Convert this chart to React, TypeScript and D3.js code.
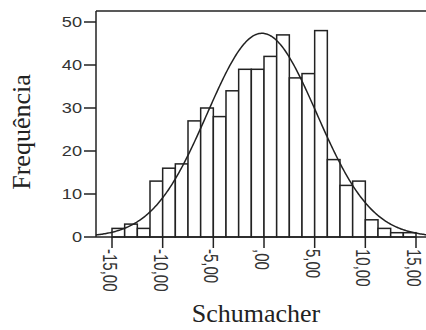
import React, { useEffect, useRef } from 'react';
import * as d3 from 'd3';

// histogram bins: lower edges start at -15, width 1.25
const binStart = -15;
const binWidth = 1.25;
const counts = [2, 3, 2, 13, 16, 17, 27, 30, 28, 34, 39, 39, 42, 47, 37, 38, 48, 18, 12, 13, 4, 2, 1, 1];

const yTicks = [0, 10, 20, 30, 40, 50];
const xTicks = [-15, -10, -5, 0, 5, 10, 15];
const xTickLabels = ['-15,00', '-10,00', '-5,00', ',00', '5,00', '10,00', '15,00'];

// fitted normal curve parameters
const curveMean = -0.2;
const curveSd = 5.4;

const W = 426;
const H = 330;

const App = () => {
  const svgRef = useRef<SVGSVGElement | null>(null);

  useEffect(() => {
    const svg = d3.select(svgRef.current);
    svg.selectAll('*').remove();

    const x = d3.scaleLinear().domain([-15, 15]).range([112, 416]);
    const y = d3.scaleLinear().domain([0, 50]).range([237, 22]);
    const left = 96;
    const top = 11;
    const base = y(0);
    const ink = '#222';

    const n = d3.sum(counts);

    // bars
    svg.append('g')
      .selectAll('rect')
      .data(counts)
      .enter()
      .append('rect')
      .attr('x', (d, i) => x(binStart + i * binWidth))
      .attr('y', d => y(d))
      .attr('width', x(binStart + binWidth) - x(binStart))
      .attr('height', d => base - y(d))
      .attr('fill', 'white')
      .attr('stroke', ink)
      .attr('stroke-width', 1.5);

    // normal curve
    const xMin = x.invert(left);
    const xMax = x.invert(W);
    const pts = d3.range(xMin, xMax + 0.05, 0.1).map(v => {
      const z = (v - curveMean) / curveSd;
      const f = n * binWidth * Math.exp(-0.5 * z * z) / (curveSd * Math.sqrt(2 * Math.PI));
      return [v, f] as [number, number];
    });
    svg.append('path')
      .attr('d', d3.line<[number, number]>().x(d => x(d[0])).y(d => y(d[1]))(pts))
      .attr('fill', 'none')
      .attr('stroke', ink)
      .attr('stroke-width', 1.5);

    // frame
    svg.append('line').attr('x1', left).attr('x2', W).attr('y1', top).attr('y2', top)
      .attr('stroke', ink).attr('stroke-width', 1.5);
    svg.append('line').attr('x1', left).attr('x2', left).attr('y1', top).attr('y2', base)
      .attr('stroke', ink).attr('stroke-width', 1.5);
    svg.append('line').attr('x1', left).attr('x2', W).attr('y1', base).attr('y2', base)
      .attr('stroke', ink).attr('stroke-width', 1.5);

    // y ticks
    const yg = svg.append('g');
    yTicks.forEach(t => {
      yg.append('line').attr('x1', 84).attr('x2', left).attr('y1', y(t)).attr('y2', y(t))
        .attr('stroke', ink).attr('stroke-width', 1.5);
      yg.append('text')
        .attr('transform', `translate(82,${y(t)}) scale(1.3,1)`)
        .attr('dy', '0.36em')
        .attr('text-anchor', 'end')
        .attr('font-family', 'Liberation Sans, Arial, sans-serif')
        .attr('font-size', 14)
        .attr('fill', '#333')
        .text(String(t));
    });

    // x ticks
    const xg = svg.append('g');
    xTicks.forEach((t, i) => {
      xg.append('line').attr('x1', x(t)).attr('x2', x(t)).attr('y1', base).attr('y2', 248)
        .attr('stroke', ink).attr('stroke-width', 1.5);
      xg.append('text')
        .attr('transform', `translate(${x(t) - 2},249) scale(1.3,1) rotate(90)`)
        .attr('dy', '0.36em')
        .attr('text-anchor', 'start')
        .attr('font-family', 'Liberation Sans, Arial, sans-serif')
        .attr('font-size', 15)
        .attr('fill', '#333')
        .text(xTickLabels[i]);
    });

    // axis titles
    svg.append('text')
      .attr('transform', `translate(30,${132}) rotate(-90)`)
      .attr('text-anchor', 'middle')
      .attr('font-family', 'Liberation Serif, Times New Roman, serif')
      .attr('font-size', 26)
      .attr('fill', '#222')
      .text('Frequência');

    svg.append('text')
      .attr('x', 256)
      .attr('y', 322)
      .attr('text-anchor', 'middle')
      .attr('font-family', 'Liberation Serif, Times New Roman, serif')
      .attr('font-size', 26)
      .attr('fill', '#222')
      .text('Schumacher');
  }, []);

  return (
    <svg
      ref={svgRef}
      width={W}
      height={H}
      style={{ position: 'absolute', left: 0, top: 0, background: 'white' }}
    />
  );
};

export default App;
